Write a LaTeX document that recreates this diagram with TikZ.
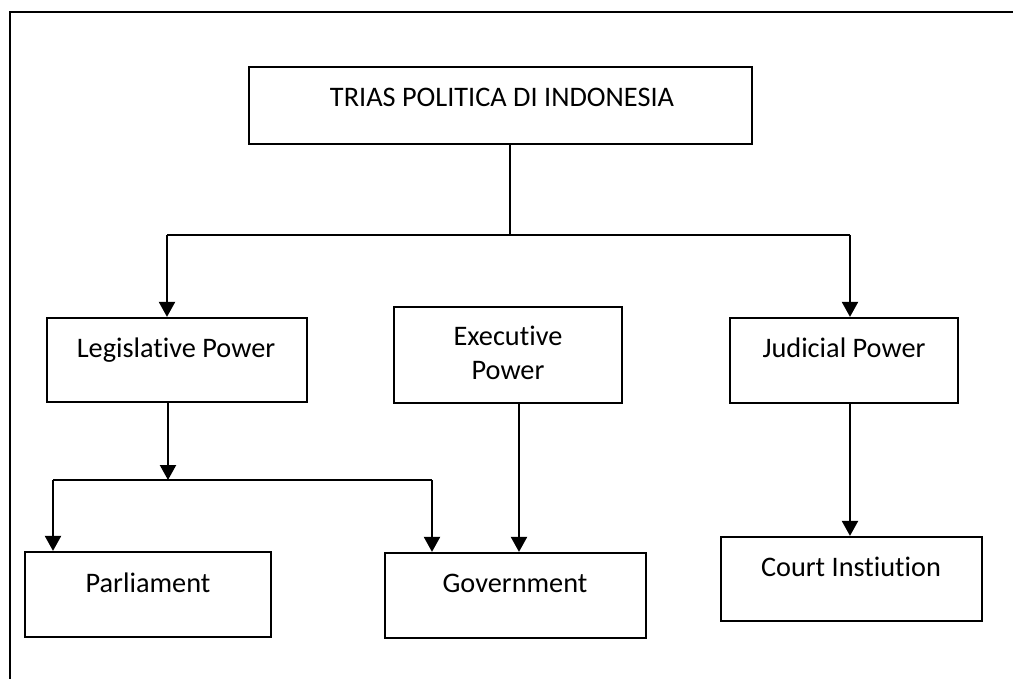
\documentclass[tikz,border=0pt]{standalone}
\usepackage{fontspec}
\setmainfont[RawFeature={-liga;-clig;-calt;-dlig}]{Carlito}
\usetikzlibrary{arrows.meta}
\begin{document}
\begin{tikzpicture}[x=1pt,y=-1pt,
  box/.style={draw=black,line width=2.2pt,inner sep=0pt},
  lbl/.style={anchor=base,inner sep=0pt,font=\fontsize{28.3}{34}\selectfont},
  conn/.style={line width=2.2pt},
  arr/.style={line width=2.2pt,-{Triangle[length=15pt,width=16pt]}}]
\useasboundingbox (0,0) rectangle (1013,679);
% frame
\draw[line width=2.2pt] (10,679) -- (10,12) -- (1013,12);
% boxes (center, size)
\node[box,minimum width=503pt,minimum height=77pt] (top) at (500.5,105.5) {};
\node[box,minimum width=260pt,minimum height=84pt] (leg) at (177,360) {};
\node[box,minimum width=228pt,minimum height=96pt] (exe) at (508,355) {};
\node[box,minimum width=228pt,minimum height=85pt] (jud) at (844,360.5) {};
\node[box,minimum width=246pt,minimum height=85pt] (par) at (148,594.5) {};
\node[box,minimum width=261pt,minimum height=85pt] (gov) at (515.5,595.5) {};
\node[box,minimum width=261pt,minimum height=84pt] (court) at (851.5,579) {};
% texts
\node[lbl] (ttop) at (502,107) {TRIAS POLITICA DI INDONESIA};
\node[lbl] (tleg) at (176,357) {Legislative Power};
\node[lbl] (texe1) at (508,345) {Executive};
\node[lbl] (texe2) at (508,380) {Power};
\node[lbl] (tjud) at (844,357) {Judicial Power};
\node[lbl] (tpar) at (148,592) {Parliament};
\node[lbl] (tgov) at (515,592) {Government};
\node[lbl] (tcourt) at (851,576) {Court Instiution};
% junctions
\coordinate (jtop) at (510,235);
\coordinate (jL) at (167,235);
\coordinate (jR) at (850,235);
\coordinate (lj) at (168,480);
\coordinate (ljL) at (53,480);
\coordinate (ljR) at (432,480);
% connectors
\draw[conn] (jtop |- top.south) -- (jtop);
\draw[conn] (jL) -- (jR);
\draw[arr] (jL) -- (jL |- leg.north);
\draw[arr] (jR) -- (jR |- jud.north);
\draw[arr] (lj |- leg.south) -- (lj);
\draw[conn] (ljL) -- (ljR);
\draw[arr] (ljL) -- (ljL |- par.north);
\draw[arr] (ljR) -- (ljR |- gov.north);
\draw[arr] (519,0 |- exe.south) -- (519,0 |- gov.north);
\draw[arr] (850,0 |- jud.south) -- (850,0 |- court.north);
\end{tikzpicture}
\end{document}
